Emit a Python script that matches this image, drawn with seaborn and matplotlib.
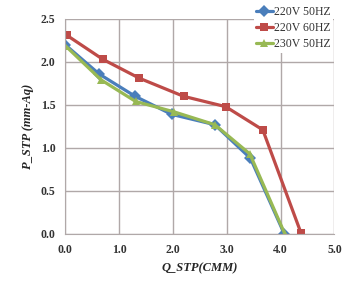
import matplotlib
matplotlib.use("Agg")
import matplotlib.pyplot as plt
import seaborn as sns
import pandas as pd

# Data
q_220_50 = [0.0, 0.63, 1.30, 1.98, 2.78, 3.44, 4.07]
p_220_50 = [2.20, 1.86, 1.60, 1.39, 1.27, 0.88, 0.0]
q_220_60 = [0.03, 0.70, 1.38, 2.20, 2.98, 3.67, 4.38]
p_220_60 = [2.31, 2.03, 1.81, 1.60, 1.48, 1.21, 0.01]
q_230_50 = [0.0, 0.67, 1.31, 2.02, 2.78, 3.43, 4.08]
p_230_50 = [2.19, 1.79, 1.54, 1.42, 1.27, 0.93, 0.0]
series_names = ["220V 50HZ", "220V 60HZ", "230V 50HZ"]
x_ticks = [0, 1, 2, 3, 4, 5]
y_ticks = [0.0, 0.5, 1.0, 1.5, 2.0, 2.5]

df = pd.concat([
    pd.DataFrame({"Q": q_220_50, "P": p_220_50, "series": series_names[0]}),
    pd.DataFrame({"Q": q_220_60, "P": p_220_60, "series": series_names[1]}),
    pd.DataFrame({"Q": q_230_50, "P": p_230_50, "series": series_names[2]}),
])

sns.set_style("white")
plt.rcParams["font.family"] = ["Liberation Serif", "DejaVu Serif"]

fig = plt.figure(figsize=(3.43, 2.91), dpi=100)
ax = fig.add_axes([0.19, 0.196, 0.785, 0.739])

palette = {"220V 50HZ": "#4a7ebb", "220V 60HZ": "#be4b48", "230V 50HZ": "#98b954"}
markers = {"220V 50HZ": "D", "220V 60HZ": "s", "230V 50HZ": "^"}
sns.lineplot(data=df, x="Q", y="P", hue="series", style="series",
             palette=palette, markers=markers, dashes=False, sort=False,
             linewidth=2.3, markersize=6, markeredgewidth=0, ax=ax, legend=True)

ax.set_xlim(0, 5)
ax.set_ylim(0, 2.5)
ax.set_xticks(x_ticks)
ax.set_xticklabels([f"{v:.1f}" for v in x_ticks], fontsize=8.5, fontweight="bold", color="#333333")
ax.set_yticks(y_ticks)
ax.set_yticklabels([f"{v:.1f}" for v in y_ticks], fontsize=8.5, fontweight="bold", color="#333333")
ax.grid(True, color="#b0a8a8", linewidth=1.0)
for s in ["top", "right"]:
    ax.spines[s].set_visible(False)
for s in ["left", "bottom"]:
    ax.spines[s].set_color("#b0a8a8")
ax.tick_params(axis="both", length=0, pad=7)
ax.set_xlabel("Q_STP(CMM)", fontsize=9, fontweight="bold", style="italic", labelpad=5)
ax.set_ylabel("P_STP (mm-Aq)", fontsize=9, fontweight="bold", style="italic", labelpad=5)

leg = ax.legend(loc="upper left", bbox_to_anchor=(0.70, 1.07), frameon=True,
                facecolor="white", edgecolor="none", framealpha=1,
                fontsize=8.5, handlelength=1.4, handletextpad=0.1,
                labelspacing=0.35, borderpad=0.2, borderaxespad=0)
for t in leg.get_texts():
    t.set_color("#333333")

fig.savefig("out.png", dpi=100, facecolor="white")
